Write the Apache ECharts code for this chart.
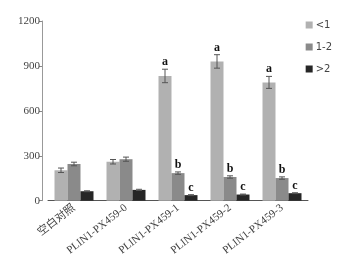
<!DOCTYPE html>
<html>
<head>
<meta charset="utf-8">
<script src="https://cdn.jsdelivr.net/npm/echarts@6/dist/echarts.min.js"></script>
<style>
  html, body { margin: 0; padding: 0; background: #fff; }
  #chart { width: 345px; height: 258px; }
</style>
</head>
<body>
<div id="chart"></div>
<script>
const categories = ['空白对照', 'PLIN1-PX459-0', 'PLIN1-PX459-1', 'PLIN1-PX459-2', 'PLIN1-PX459-3']
const seriesNames = ['<1', '1-2', '>2']
const lessThan1 = [203, 260, 833, 930, 790]
const oneToTwo = [245, 277, 184, 158, 151]
const moreThan2 = [63, 72, 37, 41, 50]
const errLessThan1 = [15, 15, 45, 45, 40]
const errOneToTwo = [12, 14, 8, 8, 8]
const errMoreThan2 = [3, 4, 3, 3, 3]
const lettersLessThan1 = ['', '', 'a', 'a', 'a']
const lettersOneToTwo = ['', '', 'b', 'b', 'b']
const lettersMoreThan2 = ['', '', 'c', 'c', 'c']
const yTicks = [0, 300, 600, 900, 1200]

const colors = ['#b1b1b1', '#8a8a8a', '#262626']
const values = [lessThan1, oneToTwo, moreThan2]
const errors = [errLessThan1, errOneToTwo, errMoreThan2]
const letters = [lettersLessThan1, lettersOneToTwo, lettersMoreThan2]

const chart = echarts.init(document.getElementById('chart'))

// error bars + significance letters, shifted to sit over each bar of the group
const errorSeries = (idx) => ({
  type: 'custom',
  z: 5,
  data: categories.map((c, i) => [i, values[idx][i], errors[idx][i]]),
  renderItem: (params, api) => {
    const i = api.value(0)
    const v = api.value(1)
    const e = api.value(2)
    const letter = letters[idx][i]
    const band = api.size([1, 0])[0]
    const barW = band * 0.75 / 3
    const x = api.coord([i, 0])[0] + (idx - 1) * barW
    const top = api.coord([i, v + e])
    const bot = api.coord([i, v - e])
    const cap = 3
    const style = { stroke: '#555', lineWidth: 1 }
    const children = [
      { type: 'line', shape: { x1: x, y1: top[1], x2: x, y2: bot[1] }, style },
      { type: 'line', shape: { x1: x - cap, y1: top[1], x2: x + cap, y2: top[1] }, style },
      { type: 'line', shape: { x1: x - cap, y1: bot[1], x2: x + cap, y2: bot[1] }, style }
    ]
    if (letter) {
      children.push({
        type: 'text',
        style: {
          text: letter,
          x: x,
          y: top[1] - 1,
          align: 'center',
          verticalAlign: 'bottom',
          fill: '#111',
          font: 'bold 12px "Liberation Serif"'
        }
      })
    }
    return { type: 'group', children }
  }
})

const option = {
  animation: false,
  textStyle: { fontFamily: '"Liberation Serif", "Noto Sans CJK SC"' },
  legend: {
    orient: 'vertical',
    right: 8,
    top: 15,
    itemWidth: 7,
    itemHeight: 7,
    itemGap: 12,
    icon: 'rect',
    data: seriesNames,
    textStyle: { fontFamily: '"DejaVu Sans"', fontSize: 10, color: '#444', padding: [0, 0, 0, -2] }
  },
  grid: { left: 48, right: 37, top: 21, bottom: 56 },
  xAxis: {
    type: 'category',
    data: categories,
    axisLine: { lineStyle: { color: '#555' } },
    axisTick: { show: false },
    axisLabel: {
      rotate: 38,
      margin: 6,
      fontSize: 11,
      color: '#444',
      fontFamily: '"Liberation Serif", "Noto Sans CJK SC"'
    }
  },
  yAxis: {
    type: 'value',
    min: yTicks[0],
    max: yTicks[yTicks.length - 1],
    interval: 300,
    offset: 6,
    axisLine: { show: true, lineStyle: { color: '#999' } },
    axisTick: { show: true, length: 3, lineStyle: { color: '#888' } },
    splitLine: { show: false },
    axisLabel: {
      fontSize: 11,
      color: '#444',
      margin: 2,
      fontFamily: '"Liberation Serif"',
      formatter: (v) => String(v)
    }
  },
  series: [
    ...seriesNames.map((name, idx) => ({
      name,
      type: 'bar',
      data: values[idx],
      barGap: '0%',
      barCategoryGap: '25%',
      itemStyle: { color: colors[idx] }
    })),
    errorSeries(0),
    errorSeries(1),
    errorSeries(2)
  ]
}

chart.setOption(option)
</script>
</body>
</html>
